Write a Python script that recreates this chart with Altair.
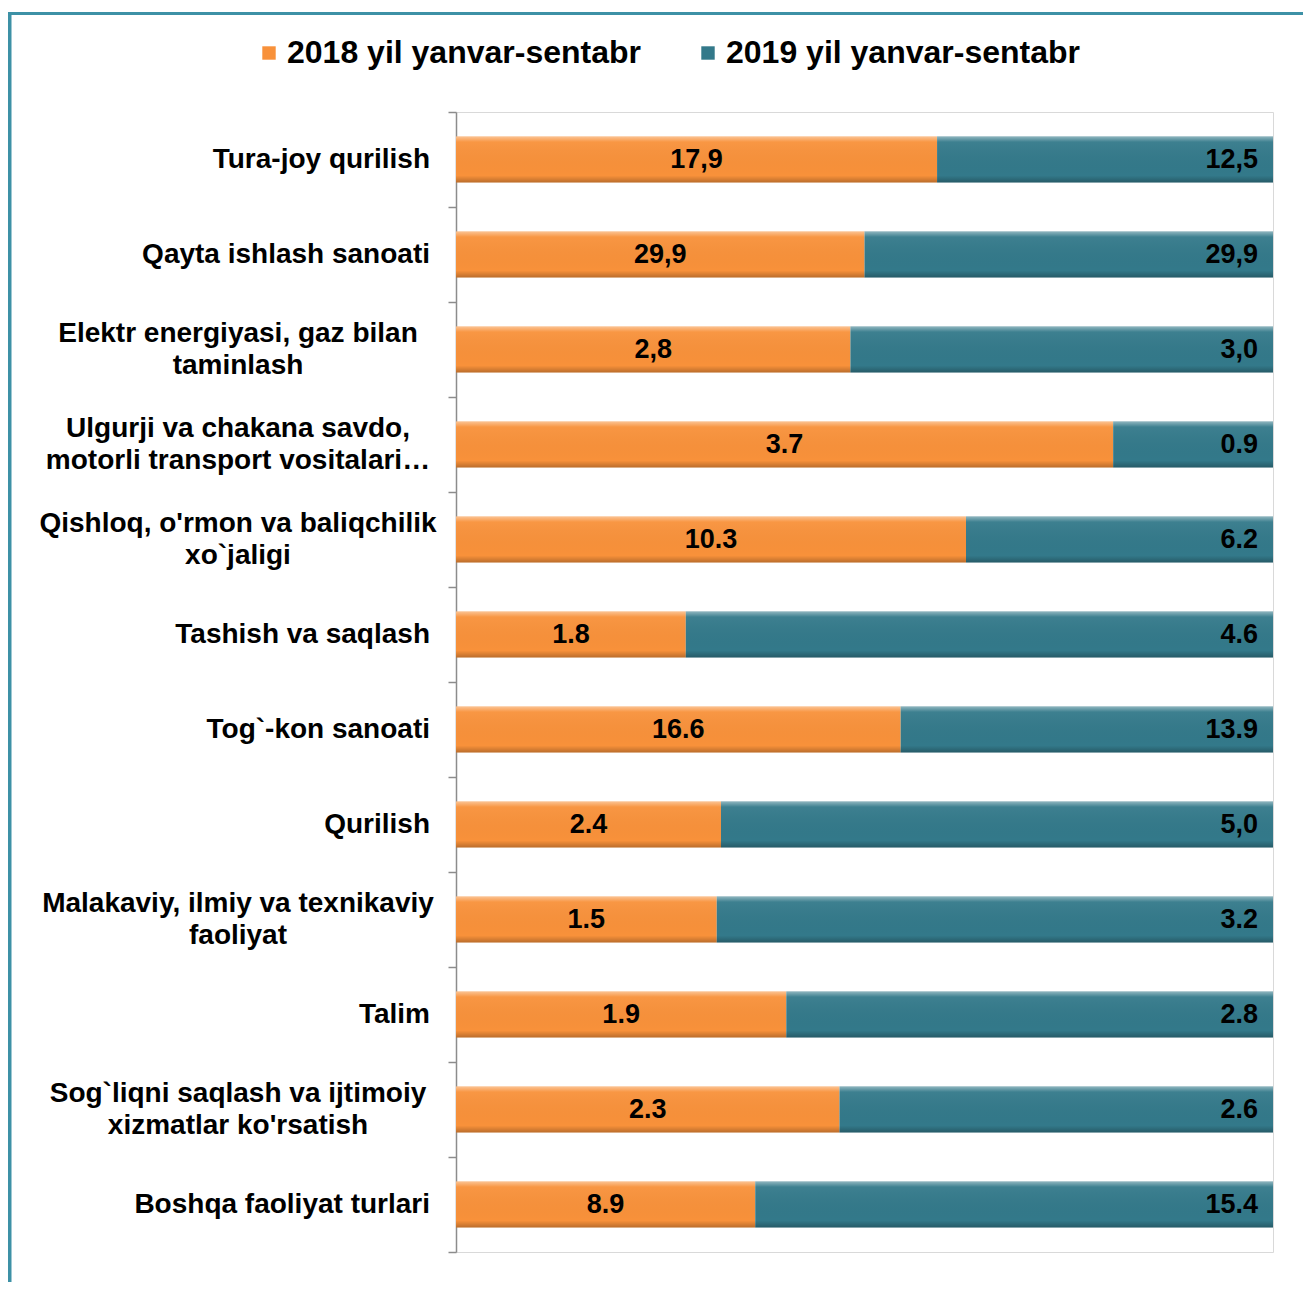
import altair as alt
import pandas as pd

categories = [
    "Tura-joy qurilish",
    "Qayta ishlash sanoati",
    "Elektr energiyasi, gaz bilan\ntaminlash",
    "Ulgurji va chakana savdo,\nmotorli transport vositalari…",
    "Qishloq, o'rmon va baliqchilik\nxo`jaligi",
    "Tashish va saqlash",
    "Tog`-kon sanoati",
    "Qurilish",
    "Malakaviy, ilmiy va texnikaviy\nfaoliyat",
    "Talim",
    "Sog`liqni saqlash va ijtimoiy\nxizmatlar ko'rsatish",
    "Boshqa faoliyat turlari",
]
values_2018 = [17.9, 29.9, 2.8, 3.7, 10.3, 1.8, 16.6, 2.4, 1.5, 1.9, 2.3, 8.9]
values_2019 = [12.5, 29.9, 3.0, 0.9, 6.2, 4.6, 13.9, 5.0, 3.2, 2.8, 2.6, 15.4]
labels_2018 = ["17,9", "29,9", "2,8", "3.7", "10.3", "1.8", "16.6", "2.4", "1.5", "1.9", "2.3", "8.9"]
labels_2019 = ["12,5", "29,9", "3,0", "0.9", "6.2", "4.6", "13.9", "5,0", "3.2", "2.8", "2.6", "15.4"]
series = ["2018 yil yanvar-sentabr", "2019 yil yanvar-sentabr"]
colors = ["#F8913A", "#33798A"]

FONT = "Liberation Sans"

rows = []
for c, a, b in zip(categories, values_2018, values_2019):
    rows.append({"category": c, "series": series[0], "value": a, "ord": 0})
    rows.append({"category": c, "series": series[1], "value": b, "ord": 1})
long_df = pd.DataFrame(rows)

wide_df = pd.DataFrame({
    "category": categories,
    "v2018": values_2018,
    "v2019": values_2019,
    "l2018": labels_2018,
    "l2019": labels_2019,
})
wide_df["multi"] = wide_df["category"].str.contains("\n")

yenc = alt.Y(
    "category:N",
    sort=categories,
    scale=alt.Scale(paddingInner=0, paddingOuter=0),
    axis=alt.Axis(labels=False, title=None, tickBand="extent", domainColor="#8c8c8c",
                  domainWidth=1.5, tickColor="#8c8c8c", tickWidth=1.5, tickSize=8),
)
xscale = alt.Scale(domain=[0, 1], nice=False, zero=True)

bars = alt.Chart(long_df).mark_bar(size=46).encode(
    x=alt.X("value:Q", stack="normalize", scale=xscale, axis=None),
    y=yenc,
    color=alt.Color(
        "series:N",
        scale=alt.Scale(domain=series, range=colors),
        legend=alt.Legend(
            orient="none", legendX=-203, legendY=-75, direction="horizontal", title=None,
            labelFont=FONT, labelFontWeight="bold", labelFontSize=32, labelColor="#000000",
            symbolType="square", symbolSize=180, symbolStrokeWidth=0, labelOffset=2,
            columnPadding=51, labelLimit=0,
        ),
    ),
    order=alt.Order("ord:Q"),
)

bevel = alt.Chart(long_df).mark_bar(
    size=46,
    fill=alt.Gradient(
        gradient="linear", x1=0, x2=0, y1=0, y2=1,
        stops=[
            alt.GradientStop(offset=0, color="rgba(255,255,255,0.45)"),
            alt.GradientStop(offset=0.12, color="rgba(255,255,255,0.05)"),
            alt.GradientStop(offset=0.85, color="rgba(0,0,0,0.0)"),
            alt.GradientStop(offset=1, color="rgba(0,0,0,0.25)"),
        ],
    ),
).encode(
    x=alt.X("value:Q", stack="normalize", scale=xscale, axis=None),
    y=yenc,
    detail="series:N",
    order=alt.Order("ord:Q"),
)

text2018 = alt.Chart(wide_df).transform_calculate(
    mid="datum.v2018 / (datum.v2018 + datum.v2019) / 2"
).mark_text(font=FONT, fontWeight="bold", fontSize=27, color="#000000", align="center",
            baseline="middle").encode(
    x=alt.X("mid:Q", scale=xscale, axis=None),
    y=yenc,
    text="l2018:N",
)

text2019 = alt.Chart(wide_df).mark_text(font=FONT, fontWeight="bold", fontSize=27, color="#000000",
                                        align="right", baseline="middle", dx=-15).encode(
    x=alt.datum(1, scale=xscale),
    y=yenc,
    text="l2019:N",
)

cat_single = alt.Chart(wide_df).transform_filter("!datum.multi").mark_text(
    font=FONT, fontWeight="bold", fontSize=28, color="#000000", align="right", baseline="middle"
).encode(
    x=alt.value(-26),
    y=yenc,
    text="category:N",
)

cat_multi = alt.Chart(wide_df).transform_filter("datum.multi").mark_text(
    font=FONT, fontWeight="bold", fontSize=28, color="#000000", align="center", baseline="middle",
    lineBreak="\n", lineHeight=32, dy=-16
).encode(
    x=alt.value(-218),
    y=yenc,
    text="category:N",
)

frame_df = pd.DataFrame({"k": [0]})
frame_left = alt.Chart(frame_df).mark_rule(color="#3D91A6", strokeWidth=4).encode(
    x=alt.value(-446.5), y=alt.value(-100), y2=alt.value(1250)
)
frame_top = alt.Chart(frame_df).mark_rule(color="#3D91A6", strokeWidth=3).encode(
    y=alt.value(-98.5), x=alt.value(-448.5), x2=alt.value(900)
)

chart = alt.layer(bars, bevel, text2018, text2019, cat_single, cat_multi, frame_left, frame_top).properties(
    width=817,
    height=1140,
    padding={"left": 448, "top": 104, "right": 30, "bottom": 30},
    autosize=alt.AutoSizeParams(type="none"),
    background="#ffffff",
).configure_view(stroke="#d9d9d9", strokeWidth=1)

chart.save("out.html", embed_options={"renderer": "svg", "actions": False})
